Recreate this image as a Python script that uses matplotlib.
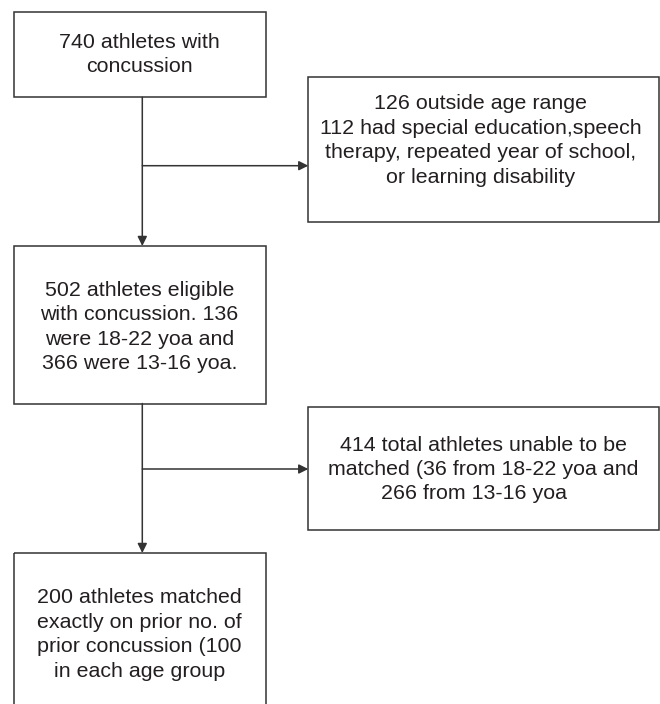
import matplotlib
matplotlib.use("Agg")
import matplotlib.pyplot as plt
from matplotlib.patches import Rectangle

plt.rcParams['font.family'] = ['Liberation Sans', 'DejaVu Sans']

box_texts = [
    "740 athletes with\nconcussion",
    "126 outside age range\n112 had special education,speech\ntherapy, repeated year of school,\nor learning disability",
    "502 athletes eligible\nwith concussion. 136\nwere 18-22 yoa and\n366 were 13-16 yoa.",
    "414 total athletes unable to be\nmatched (36 from 18-22 yoa and\n266 from 13-16 yoa   ",
    "200 athletes matched\nexactly on prior no. of\nprior concussion (100\nin each age group",
]

# box geometry in pixel coordinates: (x0, y0, x1, y1), text center (x, y)
boxes = [
    (13.5, 11.7, 265.5, 97.3),
    (308.3, 76.7, 659.3, 222.3),
    (13.5, 246.0, 265.5, 403.5),
    (308.3, 406.7, 659.3, 530.0),
    (13.5, 553.0, 265.5, 716.0),
]
text_centers = [
    (139.5, 54.5),
    (481.0, 140.5),
    (139.5, 327.0),
    (483.0, 469.5),
    (139.5, 634.5),
]

line_col = '#333333'
text_col = '#231f20'

fig = plt.figure(figsize=(6.6, 7.04), dpi=100)
ax = fig.add_axes([0, 0, 1, 1])
ax.set_xlim(0, 660)
ax.set_ylim(704, 0)
ax.axis('off')

for (x0, y0, x1, y1), txt, (tx, ty) in zip(boxes, box_texts, text_centers):
    ax.add_patch(Rectangle((x0, y0), x1 - x0, y1 - y0, fill=False,
                           edgecolor=line_col, linewidth=1.1))
    ax.text(tx, ty, txt, ha='center', va='center', multialignment='center',
            fontsize=15.4, color=text_col, linespacing=1.36)

spine_x = 142.3
arrow_kw = dict(arrowstyle='-|>', mutation_scale=14, shrinkA=0, shrinkB=0,
                color=line_col, linewidth=1.1)

# vertical arrows
ax.annotate('', xy=(spine_x, boxes[2][1]), xytext=(spine_x, boxes[0][3]),
            arrowprops=arrow_kw)
ax.annotate('', xy=(spine_x, boxes[4][1]), xytext=(spine_x, boxes[2][3]),
            arrowprops=arrow_kw)
# side arrows
ax.annotate('', xy=(boxes[1][0], 165.7), xytext=(spine_x, 165.7),
            arrowprops=arrow_kw)
ax.annotate('', xy=(boxes[3][0], 469.0), xytext=(spine_x, 469.0),
            arrowprops=arrow_kw)

fig.savefig('out.png', dpi=100, facecolor='white')
